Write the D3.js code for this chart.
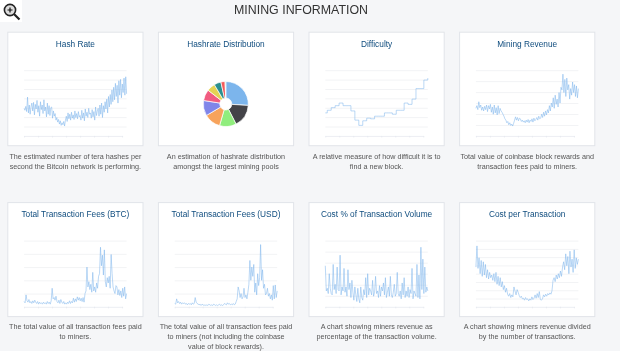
<!DOCTYPE html>
<html>
<head>
<meta charset="utf-8">
<script src="https://cdnjs.cloudflare.com/ajax/libs/d3/7.8.5/d3.min.js"></script>
<style>
  html, body { margin: 0; padding: 0; background: #f5f6f8; overflow: hidden; }
  svg { display: block; font-family: "Liberation Sans", Arial, sans-serif; filter: blur(0.3px); }
  .grid line { stroke: #f2f3f5; }
  .grid path { display: none; }
  .xax path { stroke: #eceef3; }
  .xax line { stroke: #e6e9ef; }
</style>
</head>
<body>
<svg id="chart" width="620" height="351"></svg>
<script>
const pageTitle = 'MINING INFORMATION';

const cardTitles = ['Hash Rate', 'Hashrate Distribution', 'Difficulty', 'Mining Revenue',
  'Total Transaction Fees (BTC)', 'Total Transaction Fees (USD)', 'Cost % of Transaction Volume', 'Cost per Transaction'];

const cardText = [
  ['The estimated number of tera hashes per', 'second the Bitcoin network is performing.'],
  ['An estimation of hashrate distribution', 'amongst the largest mining pools'],
  ['A relative measure of how difficult it is to', 'find a new block.'],
  ['Total value of coinbase block rewards and', 'transaction fees paid to miners.'],
  ['The total value of all transaction fees paid', 'to miners.'],
  ['The total value of all transaction fees paid', 'to miners (not including the coinbase', 'value of block rewards).'],
  ['A chart showing miners revenue as', 'percentage of the transaction volume.'],
  ['A chart showing miners revenue divided', 'by the number of transactions.']
];

// all series, 0-100 = bottom to top of the plot
const hashRate = [42,39,45,37,59,35,47,33,44,50,38,51,32,48,41,54,36,46,30,52,40,47,34,55,38,44,29,50,33,46,31,43,44,27,38,30,34,24,28,21,25,18,23,16,20,17,22,15,24,30,22,35,26,33,24,36,27,32,25,38,28,34,26,37,29,31,24,39,27,35,23,41,30,36,28,42,33,35,27,40,29,37,24,44,31,38,42,30,47,33,50,28,46,36,52,41,56,35,60,44,63,48,70,52,74,55,80,60,77,50,84,62,86,58,79,66,88,62,90,64];
const difficulty = [35,39,39,43,43,46,46,50,50,46,46,46,46,38,38,24,24,16,16,23,23,27,27,26,26,30,30,30,30,30,35,35,35,35,33,33,39,39,39,39,50,50,48,48,56,56,72,72,72,72,85,85,88];
const miningRevenue = [42,46,40,52,43,47,39,44,38,45,40,47,37,46,41,48,36,44,33,47,35,43,32,46,34,42,38,36,33,30,26,24,20,22,17,20,16,18,15,19,24,29,24,28,23,27,26,22,24,21,23,20,24,21,25,20,24,22,26,21,27,23,25,28,24,30,26,27,33,28,36,30,38,32,40,35,46,38,50,44,58,42,62,48,56,44,66,50,74,70,94,66,86,60,88,70,78,56,72,62,82,66,78,60,76,58,72];
const feesBtc = [8,6,18,9,7,11,6,8,5,9,6,10,7,5,8,4,7,5,6,4,7,5,6,4,8,5,7,4,9,28,12,14,10,16,8,6,10,5,11,7,5,8,4,6,4,7,5,9,5,8,6,13,7,12,8,15,10,14,9,13,8,14,7,20,24,60,30,38,26,34,22,52,24,30,22,36,28,46,50,90,62,78,48,86,38,30,44,36,46,28,79,50,30,24,20,32,30,18,26,17,24,14,28,16,30,12,20];
const feesUsd = [5,4,12,6,8,5,7,4,6,5,6,4,5,3,5,4,5,3,6,4,5,14,7,5,4,3,4,2,4,3,2,3,2,3,2,4,3,2,3,2,4,3,2,3,2,3,4,2,3,2,3,5,4,3,6,4,5,3,4,3,5,3,4,8,12,30,24,14,20,12,15,28,14,18,12,22,34,70,40,60,46,64,22,36,18,50,32,44,94,40,56,28,34,18,20,28,16,20,12,18,10,32,12,33,14,24];
const costPctVolume = [62,24,28,20,50,28,20,18,64,26,34,20,60,26,24,78,18,30,24,58,22,30,16,56,26,36,14,40,22,10,30,18,8,28,12,6,30,14,10,26,18,44,14,50,18,28,24,18,40,16,22,46,20,24,14,32,16,30,24,36,18,44,14,22,30,16,46,18,14,22,34,16,20,52,20,16,24,12,36,18,44,14,24,16,30,14,26,20,58,12,24,20,16,64,14,48,12,90,26,72,20,60,22,30,24];
const costPerTx = [60,92,58,74,50,70,46,68,48,64,44,56,42,52,44,48,40,50,38,52,34,46,32,44,30,38,26,32,22,28,19,16,20,14,18,15,30,24,18,26,22,17,14,16,12,13,10,14,11,12,9,12,10,15,11,13,18,13,20,14,23,11,10,12,18,15,19,16,20,18,21,19,24,40,44,38,48,42,50,44,54,46,60,68,56,80,62,76,50,84,60,72,52,86,58,74,64,72];

const poolShares = [26, 16.5, 12, 12, 11, 8, 6, 5, 3, 0.5];
const poolColors = ['#7cb5ec', '#434348', '#90ed7d', '#f7a35c', '#8085e9', '#f15c80', '#e4d354', '#2b908f', '#f45b5b', '#91e8e1'];

const seriesList = [hashRate, poolShares, difficulty, miningRevenue, feesBtc, feesUsd, costPctVolume, costPerTx];
const gridBands = [7, 0, 7, 6, 5, 5, 6, 8];

const svg = d3.select('#chart');
const cardW = 135.2, cardH = 113.5;
const colX = d3.scaleLinear().domain([0, 3]).range([7.8, 459.6]);
const rowY = [32.2, 202.6];

svg.append('text').attr('x', 301).attr('y', 14.3).attr('text-anchor', 'middle')
  .attr('font-size', 12.4).attr('fill', '#333').text(pageTitle);

// magnifier icon top left
const icon = svg.append('g');
icon.append('rect').attr('width', 22).attr('height', 22).attr('fill', '#fff');
icon.append('circle').attr('cx', 10).attr('cy', 10).attr('r', 5.6).attr('fill', '#ddd').attr('stroke', '#222').attr('stroke-width', 1.6);
icon.append('path').attr('d', 'M14 14L19.5 19.5').attr('stroke', '#222').attr('stroke-width', 2.2);
icon.append('path').attr('d', 'M7.5 10H12.5M10 7.5V12.5').attr('stroke', '#111').attr('stroke-width', 1.2);

cardTitles.forEach(function (title, i) {
  const row = i < 4 ? 0 : 1;
  const g = svg.append('g').attr('transform', `translate(${colX(i % 4)}, ${rowY[row]})`);

  g.append('rect').attr('width', cardW).attr('height', cardH + row * 0.5)
    .attr('fill', '#fff').attr('stroke', '#e1e4e9');
  g.append('text').attr('x', cardW / 2).attr('y', 14.5).attr('text-anchor', 'middle')
    .attr('font-size', 8.3).attr('fill', '#0f4c7e').text(title);

  g.selectAll('text.desc').data(cardText[i]).enter().append('text')
    .attr('class', 'desc')
    .attr('x', cardW / 2)
    .attr('y', (d, j) => cardH + 13.2 + j * 10)
    .attr('text-anchor', 'middle')
    .attr('font-size', 7.2)
    .attr('fill', '#555')
    .text(d => d);

  if (i === 1) {
    const arc = d3.arc().innerRadius(6).outerRadius(22.5);
    const pie = d3.pie().sort(null);
    g.append('g').attr('transform', 'translate(67.4, 71.8)')
      .selectAll('path').data(pie(poolShares)).enter().append('path')
      .attr('d', arc)
      .attr('fill', (d, j) => poolColors[j])
      .attr('stroke', '#fff')
      .attr('stroke-width', 0.7);
    return;
  }

  const plotTop = 38, plotBottom = row === 0 ? 103.7 : 104.2;
  const values = seriesList[i];
  const x = d3.scaleLinear().domain([0, values.length - 1]).range([16.3, 118.8]);
  const y = d3.scaleLinear().domain([0, 100]).range([plotBottom, plotTop]);

  const gridAxis = d3.axisLeft(y).tickValues(d3.range(1, gridBands[i] + 1).map(b => b * 100 / gridBands[i]))
    .tickSize(-102.5).tickFormat('');
  g.append('g').attr('class', 'grid').attr('transform', 'translate(16.3, 0)').call(gridAxis);

  const tickScale = d3.scaleLinear().domain([0, 7]).range([16.3, 114.3]);
  const xAxis = d3.axisBottom(tickScale).tickValues(d3.range(0, 8)).tickSize(1.5).tickSizeOuter(0).tickFormat('');
  g.append('g').attr('class', 'xax').attr('transform', `translate(0, ${plotBottom})`).call(xAxis);

  const line = d3.line().x((d, j) => x(j)).y(d => y(d));
  if (values === difficulty) line.curve(d3.curveStepAfter);
  g.append('path').datum(values)
    .attr('d', line)
    .attr('fill', 'none')
    .attr('stroke', '#7cb5ec')
    .attr('stroke-width', 0.7)
    .attr('stroke-opacity', 0.75);
});
</script>
</body>
</html>
